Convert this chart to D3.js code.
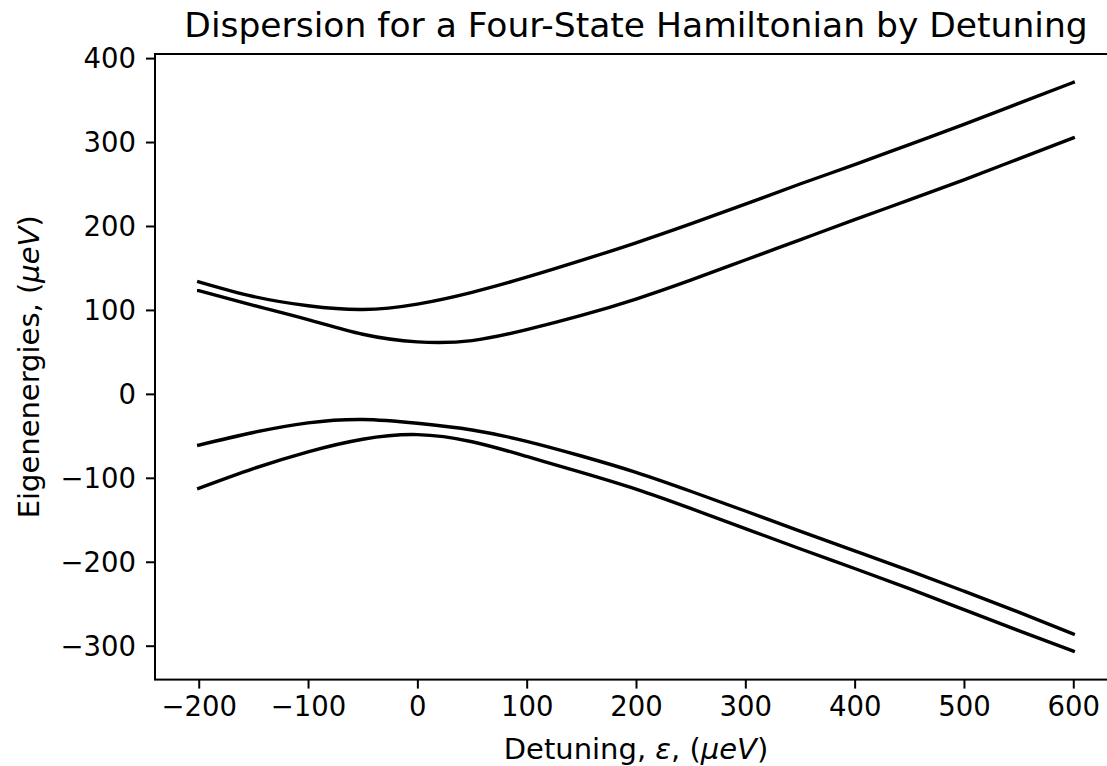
<!DOCTYPE html>
<html>
<head>
<meta charset="utf-8">
<script src="https://cdn.jsdelivr.net/npm/d3@7"></script>
<style>
  html, body { margin: 0; padding: 0; background: #fff; overflow: hidden; }
  svg { display: block; font-family: "DejaVu Sans", sans-serif; }
</style>
</head>
<body>
<svg id="chart" width="1107" height="766"></svg>
<script>
// ---- data ----
const detuning = [-200, -150, -100, -50, 0, 50, 100, 150, 200, 250, 300, 350, 400, 450, 500, 550, 600];
const level4 = [133.5, 116, 105, 100.5, 107, 121, 139, 159, 180, 202.5, 226, 250, 273, 297, 321, 346, 371];
const level3 = [123, 105.5, 88.5, 71, 62, 63.5, 76.5, 93.5, 113, 135.5, 159.5, 183.5, 207.5, 231, 255, 280, 305];
const level2 = [-61, -46, -34.5, -30.5, -35, -43, -56.5, -74, -93.5, -116, -139.5, -163.5, -187, -210.5, -235, -260, -286];
const level1 = [-112.5, -89, -69, -54, -48.5, -57, -74.5, -93.5, -113.5, -136.5, -160.5, -184.5, -208, -232, -257, -282, -306.5];
const series = [level1, level2, level3, level4];
const xTicks = [-200, -100, 0, 100, 200, 300, 400, 500, 600];
const yTicks = [-300, -200, -100, 0, 100, 200, 300, 400];
const titleText = "Dispersion for a Four-State Hamiltonian by Detuning";

// ---- layout ----
const mLeft = 155, mRight = 1117, mTop = 54, mBottom = 679.6;
const svg = d3.select("#chart");

function padded(ext) { const r = ext[1] - ext[0]; return [ext[0] - 0.05 * r, ext[1] + 0.05 * r]; }
const xExt = padded(d3.extent(detuning));
const yExt = padded([d3.min(series, s => d3.min(s)), d3.max(series, s => d3.max(s))]);

const x = d3.scaleLinear().domain(xExt).range([mLeft, mRight]);
const y = d3.scaleLinear().domain(yExt).range([mBottom, mTop]);

// ---- curves ----
const line = d3.line()
  .x(d => x(d[0]))
  .y(d => y(d[1]))
  .curve(d3.curveNatural);

const plot = svg.append("g");
series.forEach(s => {
  plot.append("path")
    .datum(detuning.map((e, i) => [e, s[i]]))
    .attr("d", line)
    .attr("fill", "none")
    .attr("stroke", "#000")
    .attr("stroke-width", 3.4)
    .attr("stroke-linecap", "square")
    .attr("stroke-linejoin", "round");
});

// ---- axes ----
const fmt = d3.format("");
const xAxis = d3.axisBottom(x).tickValues(xTicks).tickFormat(fmt).tickSize(9).tickPadding(7).tickSizeOuter(0);
const yAxis = d3.axisLeft(y).tickValues(yTicks).tickFormat(fmt).tickSize(9).tickPadding(10).tickSizeOuter(0);

const gx = svg.append("g").attr("transform", `translate(0,${mBottom})`).call(xAxis);
const gy = svg.append("g").attr("transform", `translate(${mLeft},0)`).call(yAxis);
[gx, gy].forEach(g => {
  g.select(".domain").remove();
  g.selectAll(".tick line").attr("stroke", "#000").attr("stroke-width", 2);
  g.selectAll(".tick text").attr("fill", "#000")
    .style("font-family", "'DejaVu Sans', sans-serif").style("font-size", "27.5px");
});
gx.selectAll(".tick text").attr("dy", "0.76em");
gy.selectAll(".tick text").attr("dy", "0.36em");

// spines (left, bottom, top, right)
svg.append("rect")
  .attr("x", mLeft).attr("y", mTop)
  .attr("width", mRight - mLeft).attr("height", mBottom - mTop)
  .attr("fill", "none").attr("stroke", "#000").attr("stroke-width", 2);

// ---- texts ----
svg.append("text")
  .attr("x", (mLeft + mRight) / 2).attr("y", 37)
  .attr("text-anchor", "middle")
  .style("font-size", "34.5px").attr("fill", "#000")
  .text(titleText);

const xl = svg.append("text")
  .attr("x", (mLeft + mRight) / 2).attr("y", 759)
  .attr("text-anchor", "middle")
  .style("font-size", "29px").attr("fill", "#000");
xl.append("tspan").text("Detuning, ");
xl.append("tspan").style("font-style", "italic").text("ε");
xl.append("tspan").text(", (");
xl.append("tspan").style("font-style", "italic").text("μeV");
xl.append("tspan").text(")");

const yl = svg.append("text")
  .attr("transform", `translate(39,${(mTop + mBottom) / 2}) rotate(-90)`)
  .attr("text-anchor", "middle")
  .style("font-size", "29px").attr("fill", "#000");
yl.append("tspan").text("Eigenenergies, (");
yl.append("tspan").style("font-style", "italic").text("μeV");
yl.append("tspan").text(")");
</script>
</body>
</html>
